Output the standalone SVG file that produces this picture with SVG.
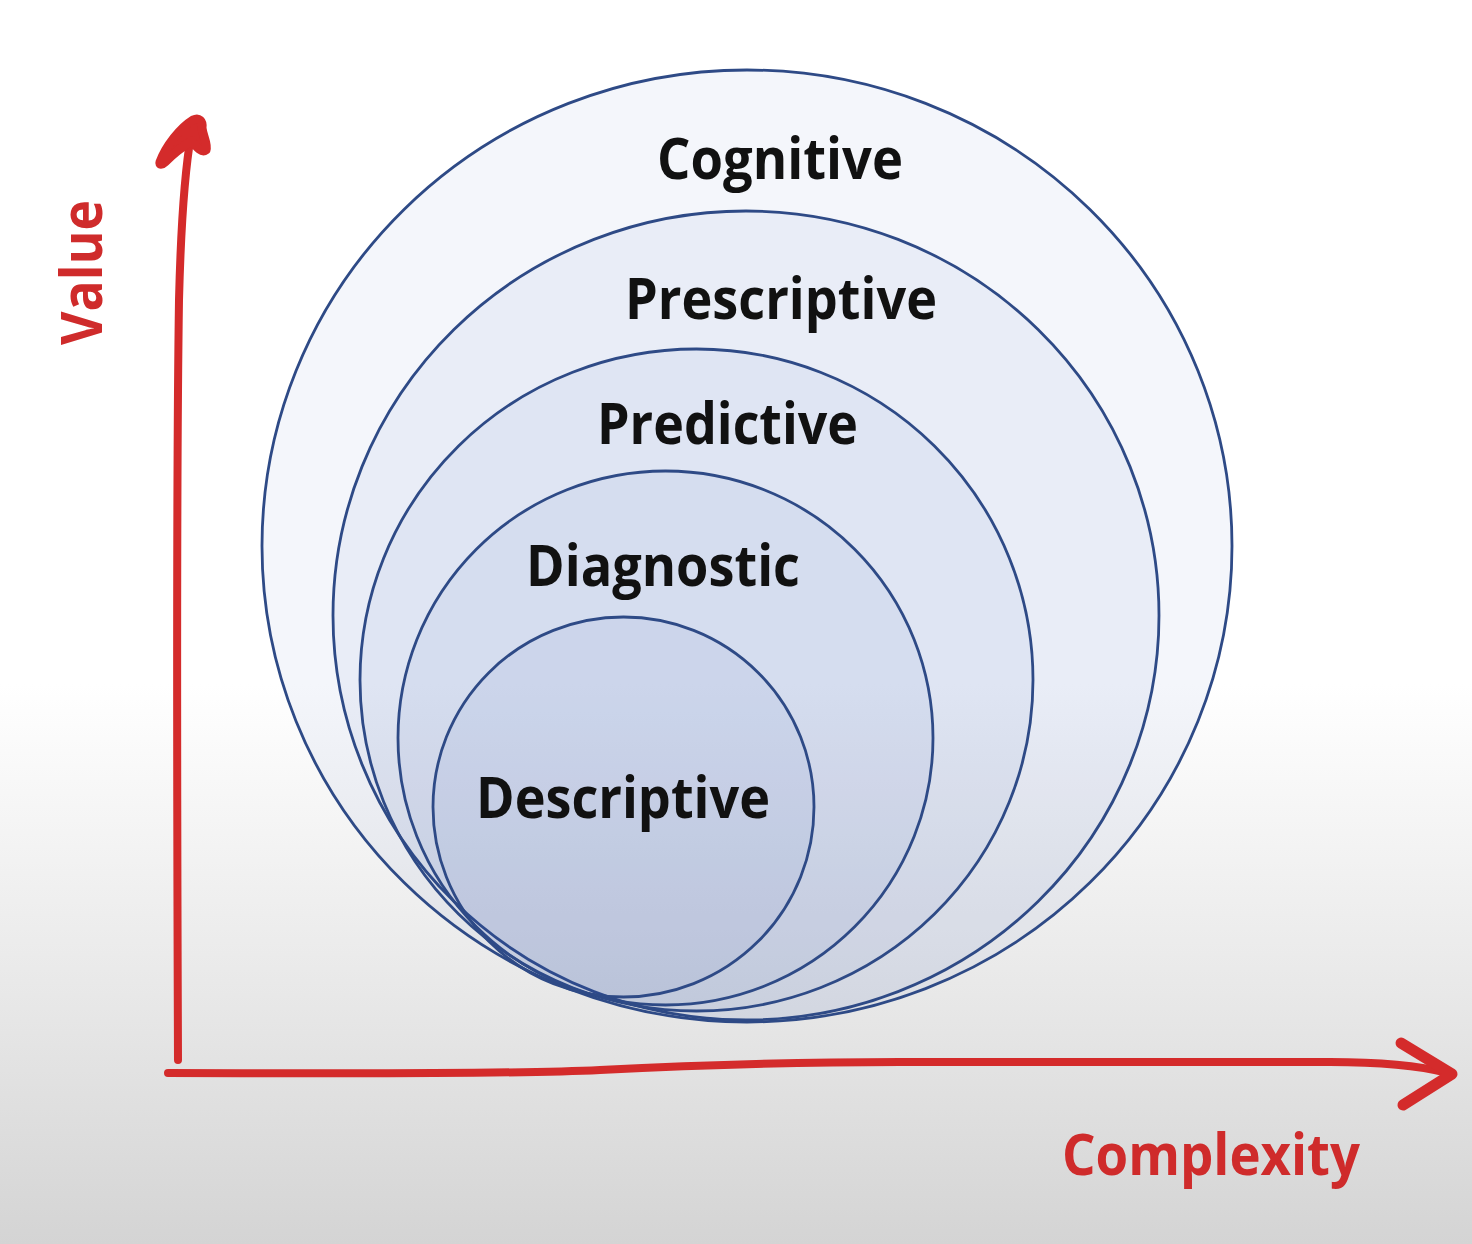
<svg xmlns="http://www.w3.org/2000/svg" width="1472" height="1244" viewBox="0 0 1472 1244">
  <defs>
    <linearGradient id="bg" x1="0" y1="0" x2="0" y2="1244" gradientUnits="userSpaceOnUse">
      <stop offset="0" stop-color="#ffffff"/>
      <stop offset="0.55" stop-color="#ffffff"/>
      <stop offset="0.8" stop-color="#e8e8e8"/>
      <stop offset="1" stop-color="#d4d4d4"/>
    </linearGradient>
  </defs>
  <style>
    .ring { fill: #3a62b0; fill-opacity: 0.055; stroke: #2e4a86; stroke-width: 2.8; }
    .lbl { font-family: "Open Sans", "Liberation Sans", sans-serif; font-weight: 700; font-size: 57px; fill: #111111; }
    .axlbl { font-family: "Open Sans", "Liberation Sans", sans-serif; font-weight: 700; font-size: 58px; fill: #cf2b2b; }
    .axis { fill: none; stroke: #d42b2b; stroke-width: 8; stroke-linecap: round; stroke-linejoin: round; }
    .head { fill: none; stroke: #d42b2b; stroke-width: 11; stroke-linecap: round; stroke-linejoin: round; }
    .headfill { fill: #d42b2b; stroke: #d42b2b; stroke-width: 9; stroke-linejoin: round; }
  </style>
  <rect x="0" y="0" width="1472" height="1244" fill="url(#bg)"/>

  <g id="cognitive">
    <ellipse class="ring" cx="747" cy="546" rx="485" ry="476"/>
    <text class="lbl" x="657" y="179" textLength="246" lengthAdjust="spacingAndGlyphs">Cognitive</text>
  </g>
  <g id="prescriptive">
    <ellipse class="ring" cx="746" cy="615.5" rx="413" ry="404.5"/>
    <text class="lbl" x="625" y="319" textLength="312" lengthAdjust="spacingAndGlyphs">Prescriptive</text>
  </g>
  <g id="predictive">
    <ellipse class="ring" cx="696.5" cy="680" rx="336.5" ry="331"/>
    <text class="lbl" x="597" y="444" textLength="261" lengthAdjust="spacingAndGlyphs">Predictive</text>
  </g>
  <g id="diagnostic">
    <ellipse class="ring" cx="665.5" cy="738" rx="267.5" ry="267"/>
    <text class="lbl" x="526" y="586" textLength="274" lengthAdjust="spacingAndGlyphs">Diagnostic</text>
  </g>
  <g id="descriptive">
    <ellipse class="ring" cx="623.5" cy="807" rx="190.5" ry="190"/>
    <text class="lbl" x="476" y="818" textLength="294" lengthAdjust="spacingAndGlyphs">Descriptive</text>
  </g>

  <g id="connectors">
    <path class="axis" d="M178,1060 C177,800 176,500 179,300 C181,220 185,170 191,135"/>
    <path class="headfill" d="M160,162 C166,146 180,128 193,120 C199,117 203,121 202,128 C203,137 208,144 206,150 C202,153 197,148 192,141 C183,146 172,155 165,162 C162,165 159,165 160,162 Z"/>
    <path class="axis" d="M168,1073 C300,1073 500,1075 600,1070 C700,1065 800,1062 900,1062 L1330,1062 C1380,1062 1420,1066 1448,1073"/>
    <path class="head" d="M1401,1043 L1452,1074 L1403,1105"/>
  </g>

  <g id="value-label">
    <text class="axlbl" transform="translate(102,345) rotate(-90)" x="0" y="0" textLength="145" lengthAdjust="spacingAndGlyphs">Value</text>
  </g>
  <g id="complexity-label">
    <text class="axlbl" x="1062" y="1175" textLength="298" lengthAdjust="spacingAndGlyphs">Complexity</text>
  </g>
</svg>
